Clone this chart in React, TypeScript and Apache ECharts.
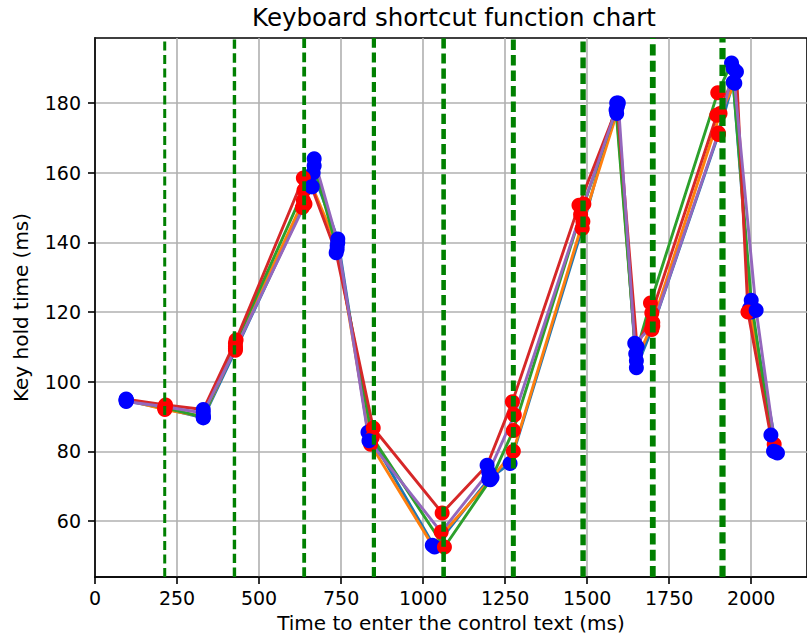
import { useEffect, useRef } from 'react';
import * as echarts from 'echarts';

const FONT = 'DejaVu Sans';

const xTicks = [0, 250, 500, 750, 1000, 1250, 1500, 1750, 2000];
const yTicks = [60, 80, 100, 120, 140, 160, 180];
const X_MIN = 0;
const X_MAX = 2170;
const Y_MIN = 43.9;
const Y_MAX = 198.7;

// vertical green dashed reference lines
const vlineX = [212.5, 425, 637.5, 850, 1062.5, 1275, 1487.5, 1700, 1912.5];
const vlineWidth = [3.0, 3.4, 3.8, 4.2, 4.6, 5.0, 5.4, 5.8, 6.2];

const lineColors = ['#1f77b4', '#ff7f0e', '#2ca02c', '#d62728', '#9467bd'];

const xs0 = [95, 213, 330, 428, 632, 665, 740, 832, 1035, 1200, 1265, 1485, 1590, 1650, 1697, 1900, 1945, 2000, 2080];
const ys0 = [94.5, 92.3, 89.6, 109, 150, 160, 141, 85.5, 52.5, 72, 76.5, 144, 180, 104, 115, 171, 186, 120, 79.5];
const mk0 = ['b', 'r', 'b', 'r', 'r', 'b', 'b', 'b', 'b', 'b', 'b', 'r', 'b', 'b', 'r', 'r', 'b', 'b', 'b'];

const xs1 = [95, 213, 330, 428, 635, 662, 738, 840, 1028, 1205, 1275, 1487, 1590, 1650, 1700, 1905, 1950, 1995, 2070];
const ys1 = [94.8, 92, 90, 110, 152, 156, 139, 82, 53, 71.8, 80, 146, 177, 106, 117, 177, 185.7, 121, 82];
const mk1 = ['b', 'r', 'b', 'r', 'r', 'b', 'b', 'r', 'b', 'b', 'r', 'r', 'b', 'b', 'r', 'r', 'b', 'b', 'r'];

const xs2 = [95, 213, 330, 428, 637, 668, 738, 845, 1065, 1210, 1275, 1480, 1588, 1648, 1693, 1898, 1940, 2000, 2060];
const ys2 = [94.8, 92.5, 89.8, 111, 155, 162, 138, 84, 52.5, 72.5, 86, 148, 178, 108, 122.6, 183, 191.5, 123.4, 84.7];
const mk2 = ['b', 'r', 'b', 'r', 'r', 'b', 'b', 'r', 'r', 'b', 'r', 'r', 'b', 'b', 'r', 'r', 'b', 'b', 'b'];

const xs3 = [95, 215, 330, 430, 635, 660, 735, 848, 1058, 1195, 1272, 1475, 1592, 1652, 1697, 1895, 1955, 1990, 2068];
const ys3 = [95, 93.3, 92, 112, 158.5, 156, 137, 86.7, 62.3, 76, 94.2, 150.7, 179, 110, 119.7, 176.5, 189, 120, 80];
const mk3 = ['b', 'r', 'b', 'r', 'r', 'b', 'b', 'r', 'r', 'b', 'r', 'r', 'b', 'b', 'r', 'r', 'b', 'r', 'b'];

const xs4 = [95, 213, 330, 428, 640, 668, 740, 835, 1055, 1200, 1278, 1490, 1595, 1645, 1700, 1900, 1945, 2015, 2075];
const ys4 = [94.3, 92.8, 91, 109.5, 151, 164, 140, 83, 56.8, 74, 90.4, 151, 180, 111, 116, 171.4, 190, 120.5, 79.8];
const mk4 = ['b', 'r', 'b', 'r', 'r', 'b', 'b', 'b', 'r', 'b', 'r', 'r', 'b', 'b', 'r', 'r', 'b', 'b', 'b'];

const allX = [xs0, xs1, xs2, xs3, xs4];
const allY = [ys0, ys1, ys2, ys3, ys4];
const allM = [mk0, mk1, mk2, mk3, mk4];

export default function App() {
  const ref = useRef<HTMLDivElement>(null);
  useEffect(() => {
    document.body.style.margin = '0';
    if (!ref.current) return;
    const chart = echarts.init(ref.current, undefined, { renderer: 'svg' });

    const lineSeries = allX.map((xs, i) => ({
      type: 'line',
      data: xs.map((x, j) => [x, allY[i][j]]),
      symbol: 'none',
      showSymbol: false,
      silent: true,
      z: 2,
      lineStyle: { color: lineColors[i], width: 2.9, join: 'round' },
    }));

    const markerSeries = allX.map((xs, i) => ({
      type: 'scatter',
      data: xs.map((x, j) => ({
        value: [x, allY[i][j]],
        itemStyle: { color: allM[i][j] === 'r' ? '#ff0000' : '#0000ff', opacity: 1 },
      })),
      symbol: 'circle',
      symbolSize: 15,
      silent: true,
      z: 3,
      itemStyle: { opacity: 1 },
    }));

    const vSeries = vlineX.map((x, k) => {
      const w = vlineWidth[k];
      return {
        type: 'line',
        data: [[x, Y_MIN], [x, Y_MAX]],
        symbol: 'none',
        showSymbol: false,
        silent: true,
        z: 4,
        lineStyle: { color: '#008000', width: w, type: [7 + 0.7 * w, 3.5 + 0.3 * w], cap: 'butt' },
      };
    });

    chart.setOption({
      animation: false,
      backgroundColor: '#ffffff',
      textStyle: { fontFamily: FONT },
      grid: {
        left: 95,
        top: 38,
        right: -6,
        bottom: 65,
        show: true,
        borderColor: '#000000',
        borderWidth: 1.6,
        backgroundColor: 'transparent',
      },
      graphic: [
        {
          type: 'text',
          x: 454,
          y: 17,
          style: {
            text: 'Keyboard shortcut function chart',
            fontFamily: FONT,
            fontSize: 24.5,
            fill: '#000000',
            textAlign: 'center',
            textVerticalAlign: 'middle',
          },
        },
      ],
      xAxis: {
        type: 'value',
        min: X_MIN,
        max: X_MAX,
        name: 'Time to enter the control text (ms)',
        nameLocation: 'middle',
        nameGap: 36,
        nameTextStyle: { fontFamily: FONT, fontSize: 20, color: '#000000' },
        axisLine: { show: true, lineStyle: { color: '#000000', width: 1.6 } },
        axisTick: { show: true, length: 7, lineStyle: { color: '#000000', width: 1.6 }, customValues: xTicks },
        axisLabel: {
          customValues: xTicks,
          fontFamily: FONT,
          fontSize: 19,
          color: '#000000',
          margin: 11,
          formatter: (v: number) => (xTicks.includes(v) ? String(v) : ''),
        },
        splitLine: { show: true, lineStyle: { color: '#b0b0b0', width: 1.6 } },
      },
      yAxis: {
        type: 'value',
        min: Y_MIN,
        max: Y_MAX,
        name: 'Key hold time (ms)',
        nameLocation: 'middle',
        nameGap: 64,
        nameTextStyle: { fontFamily: FONT, fontSize: 20, color: '#000000' },
        axisLine: { show: true, lineStyle: { color: '#000000', width: 1.6 } },
        axisTick: { show: true, length: 7, lineStyle: { color: '#000000', width: 1.6 }, customValues: yTicks },
        axisLabel: {
          customValues: yTicks,
          fontFamily: FONT,
          fontSize: 19,
          color: '#000000',
          margin: 14,
          formatter: (v: number) => (yTicks.includes(v) ? String(v) : ''),
        },
        splitLine: { show: true, lineStyle: { color: '#b0b0b0', width: 1.6 } },
      },
      series: [...lineSeries, ...markerSeries, ...vSeries],
    });
    return () => chart.dispose();
  }, []);
  return <div ref={ref} style={{ width: 807, height: 642, overflow: 'hidden' }} />;
}
